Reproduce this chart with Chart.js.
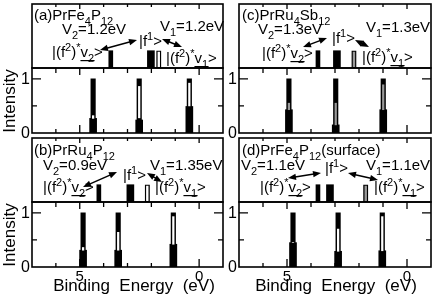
<!DOCTYPE html>
<html>
<head>
<meta charset="utf-8">
<script src="https://cdn.jsdelivr.net/npm/chart.js@4.4.0/dist/chart.umd.min.js"></script>
<style>
html, body { margin: 0; padding: 0; background: #fff; }
#fig { position: relative; width: 437px; height: 303px; overflow: hidden; font-family: "Liberation Sans", Arial, sans-serif; }
#fig canvas { position: absolute; }
.lbl { position: absolute; color: #000; white-space: pre; line-height: 1; font-size: 17px; }
</style>
</head>
<body>
<div id="fig"></div>
<script>
const FONT = '"Liberation Sans", Arial, sans-serif';

// panels in order a, b, c, d
const panelTitle = ['PrFe4P12', 'PrRu4P12', 'PrRu4Sb12', 'PrFe4P12(surface)'];
const v2Text = ['1.2', '0.9', '1.3', '1.1'];
const v1Text = ['1.2', '1.35', '1.3', '1.1'];

// level diagram (upper box), energies in eV
const levelV2 = [3.70, 4.20, 3.71, 3.71];
const levelF1 = [2.02, 2.88, 2.92, 3.21];
const levelV1 = [1.69, 2.17, 2.21, 1.72];
const levelHeight = [0.27, 0.27, 0.27, 0.27];
const levelV1Fill = ['#fff', '#fff', '#999', '#999'];

// spectra (lower box): three peaks per panel
const peakE = [[4.44, 2.51, 0.41], [4.86, 3.39, 1.08], [4.92, 2.97, 0.99], [4.75, 2.87, 1.03]];
const peakTop = [[1, 1, 1], [1, 1, 1], [1, 1, 1], [1, 1, 1]];
const peakBase = [[0.27, 0.24, 0.49], [0.31, 0.31, 0.42], [0.43, 0.15, 0.43], [0.45, 0.29, 0.30]];
const innerLow = [[0.27, 0.28, 0.50], [0.31, 0.31, 0.42], [0.43, 0.15, 0.43], [0.45, 0.29, 0.30]];
const innerHigh = [[0.32, 0.86, 0.92], [0.36, 0.64, 0.93], [0.55, 0.55, 0.89], [0.45, 0.70, 0.93]];
const innerFill = ['#fff', '#fff', '#999', '#fff'];

const xTickLabels = [5, 0];
const yTickLabels = [0, 1];

// where each panel sits
const boxes = [
    { x: 32, y: 4, w: 191, row: 0 },
    { x: 32, y: 138, w: 191, row: 1 },
    { x: 239, y: 4, w: 192, row: 0 },
    { x: 239, y: 138, w: 192, row: 1 }
];
const upperH = 64, lowerH = 65;

// annotation placement, px from the upper box corner
const notePos = [
    { title: [2, 16], v2: [30, 30], v1: [128, 27], f1: [107, 42], s2: [20, 53], s1: [134, 59], a1: [68, 46, 105, 36], a2: [130, 35, 150, 43] },
    { title: [2, 17], v2: [11, 32], v1: [118, 32], f1: [91, 42], s2: [11, 54], s1: [123, 54], a1: [51, 49, 85, 34], a2: [115, 35, 130, 44] },
    { title: [3, 16], v2: [19, 30], v1: [127, 28], f1: [93, 39], s2: [23, 54], s1: [123, 58], a1: [64, 43, 88, 34], a2: [116, 36, 130, 43] },
    { title: [3, 17], v2: [2, 32], v1: [127, 32], f1: [86, 35], s2: [21, 54], s1: [135, 54], a1: [49, 40, 82, 35], a2: [109, 35, 139, 42] }
];

const fig = document.getElementById('fig');

const addCanvas = (left, top, width, height) => {
    const c = document.createElement('canvas');
    c.width = width;
    c.height = height;
    c.style.left = left + 'px';
    c.style.top = top + 'px';
    c.style.width = width + 'px';
    c.style.height = height + 'px';
    fig.appendChild(c);
    return c;
};

const addLabel = (text, css) => {
    const d = document.createElement('div');
    d.className = 'lbl';
    d.textContent = text;
    Object.assign(d.style, css);
    fig.appendChild(d);
};

// split "PrFe4P12" into normal text and subscripts
const formulaParts = (s) => {
    const out = [];
    s.replace(/(\d+)|([^\d]+)/g, (m, num) => { out.push([m, num ? 'sub' : 'n']); });
    return out;
};

const drawRich = (ctx, x, y, parts, size) => {
    let cx = x;
    for (const [t, s] of parts) {
        const small = s !== 'n' && s !== 'u';
        const fs = small ? Math.round(size * 0.72) : size;
        ctx.font = fs + 'px ' + FONT;
        let dy = 0;
        if (s === 'sub' || s === 'usub') dy = size * 0.3;
        if (s === 'sup') dy = -size * 0.4;
        ctx.fillText(t, cx, y + dy);
        const w = ctx.measureText(t).width;
        if (s === 'u' || s === 'usub') ctx.fillRect(cx, y + 3, w + 0.5, 1.2);
        cx += w;
    }
};

const drawArrow = (ctx, x1, y1, x2, y2) => {
    const a = Math.atan2(y2 - y1, x2 - x1);
    const hl = 8, hw = 3.2;
    ctx.beginPath();
    ctx.moveTo(x1 + 4 * Math.cos(a), y1 + 4 * Math.sin(a));
    ctx.lineTo(x2 - 4 * Math.cos(a), y2 - 4 * Math.sin(a));
    ctx.stroke();
    const head = (hx, hy, ang) => {
        ctx.beginPath();
        ctx.moveTo(hx, hy);
        ctx.lineTo(hx - hl * Math.cos(ang) + hw * Math.sin(ang), hy - hl * Math.sin(ang) - hw * Math.cos(ang));
        ctx.lineTo(hx - hl * Math.cos(ang) - hw * Math.sin(ang), hy - hl * Math.sin(ang) + hw * Math.cos(ang));
        ctx.closePath();
        ctx.fill();
    };
    head(x2, y2, a);
    head(x1, y1, a + Math.PI);
};

// frame box with inward ticks and tick labels
const framePlugin = {
    id: 'frame',
    afterDatasetsDraw(chart, args, opts) {
        const { ctx, chartArea: a, scales: { x, y } } = chart;
        ctx.save();
        ctx.strokeStyle = '#000';
        ctx.fillStyle = '#000';
        ctx.lineWidth = 1.6;
        ctx.strokeRect(a.left, a.top, a.right - a.left, a.bottom - a.top);
        ctx.lineWidth = 1.3;
        ctx.beginPath();
        for (let e = -1; e <= 7; e++) {
            const px = x.getPixelForValue(e);
            if (px <= a.left + 1 || px >= a.right - 1) continue;
            const major = e % 5 === 0;
            if (opts.bottom) { ctx.moveTo(px, a.bottom); ctx.lineTo(px, a.bottom - (major ? 8 : 4)); }
            if (opts.top) { ctx.moveTo(px, a.top); ctx.lineTo(px, a.top + (major ? opts.top : opts.top - 2)); }
        }
        if (opts.yTicks) {
            for (const v of [0.5, 1]) {
                const py = y.getPixelForValue(v);
                const len = v === 1 ? 9 : 5;
                ctx.moveTo(a.left, py); ctx.lineTo(a.left + len, py);
                ctx.moveTo(a.right, py); ctx.lineTo(a.right - len, py);
            }
        }
        ctx.stroke();
        if (opts.yTicks) {
            ctx.font = '16px ' + FONT;
            ctx.textAlign = 'right';
            ctx.textBaseline = 'middle';
            yTickLabels.forEach(v => ctx.fillText(String(v), a.left - 2, y.getPixelForValue(v) + 1));
        }
        if (opts.xLabels) {
            ctx.font = '15px ' + FONT;
            ctx.textAlign = 'center';
            ctx.textBaseline = 'top';
            xTickLabels.forEach(v => ctx.fillText(String(v), x.getPixelForValue(v), a.bottom + 2));
        }
        ctx.restore();
    }
};

// text and arrows of the level diagram
const notesPlugin = {
    id: 'notes',
    afterDraw(chart, args, opts) {
        if (!opts.pos) return;
        const { ctx, chartArea: a } = chart;
        const p = opts.pos, i = opts.i;
        const X = (v) => a.left + v, Y = (v) => a.top + v;
        ctx.save();
        ctx.fillStyle = '#000';
        ctx.strokeStyle = '#000';
        ctx.textBaseline = 'alphabetic';
        const letter = '(' + 'abcd'[i] + ')';
        drawRich(ctx, X(p.title[0]), Y(p.title[1]), [[letter, 'n'], ...formulaParts(panelTitle[i])], 15);
        drawRich(ctx, X(p.v2[0]), Y(p.v2[1]), [['V', 'n'], ['2', 'sub'], ['=' + v2Text[i] + 'eV', 'n']], 15);
        drawRich(ctx, X(p.v1[0]), Y(p.v1[1]), [['V', 'n'], ['1', 'sub'], ['=' + v1Text[i] + 'eV', 'n']], 15);
        drawRich(ctx, X(p.f1[0]), Y(p.f1[1]), [['|f', 'n'], ['1', 'sup'], ['>', 'n']], 15);
        drawRich(ctx, X(p.s2[0]), Y(p.s2[1]), [['|(f', 'n'], ['2', 'sup'], [')', 'n'], ['*', 'sup'], ['v', 'u'], ['2', 'usub'], ['>', 'n']], 15);
        drawRich(ctx, X(p.s1[0]), Y(p.s1[1]), [['|(f', 'n'], ['2', 'sup'], [')', 'n'], ['*', 'sup'], ['v', 'u'], ['1', 'usub'], ['>', 'n']], 15);
        ctx.lineWidth = 1.5;
        drawArrow(ctx, X(p.a1[0]), Y(p.a1[1]), X(p.a1[2]), Y(p.a1[3]));
        drawArrow(ctx, X(p.a2[0]), Y(p.a2[1]), X(p.a2[2]), Y(p.a2[3]));
        ctx.restore();
    }
};

Chart.register(framePlugin, notesPlugin);

const xScale = { type: 'linear', min: -1, max: 7, reverse: true, offset: false, display: false };

const barSet = (points, color, thickness, order, extra) => Object.assign({
    data: points, backgroundColor: color, barThickness: thickness,
    grouped: false, order: order, borderWidth: 0
}, extra || {});

boxes.forEach((b, i) => {
    // upper: level diagram
    const pad = 2;
    const cu = addCanvas(b.x - pad, b.y - pad, b.w + 2 * pad, upperH + 2 * pad);
    new Chart(cu, {
        type: 'bar',
        data: {
            datasets: [
                barSet([{ x: levelV1[i], y: levelHeight[i] }], levelV1Fill[i], 4.5, 0,
                    { borderColor: '#000', borderWidth: 1.4, borderSkipped: false }),
                barSet([{ x: levelF1[i], y: levelHeight[i] }], '#000', 7, 1),
                barSet([{ x: levelV2[i], y: levelHeight[i] }], '#000', 4, 2)
            ]
        },
        options: {
            responsive: false, animation: false, devicePixelRatio: 1,
            layout: { padding: pad },
            scales: { x: xScale, y: { min: 0, max: 1, display: false } },
            plugins: {
                legend: { display: false }, tooltip: { enabled: false },
                frame: { top: 5 },
                notes: { pos: notePos[i], i: i }
            }
        }
    });

    // lower: intensity spectrum
    const bottomRow = b.row === 1;
    const padL = 22, padT = 2, padR = 2, padB = bottomRow ? 22 : 10;
    const yTop = b.y + upperH;
    const cl = addCanvas(b.x - padL, yTop - padT, b.w + padL + padR, lowerH + padT + padB);
    new Chart(cl, {
        type: 'bar',
        data: {
            datasets: [
                barSet(peakE[i].map((e, k) => ({ x: e, y: [innerLow[i][k], innerHigh[i][k]] })), innerFill[i], 1.6, 0),
                barSet(peakE[i].map((e, k) => ({ x: e, y: peakBase[i][k] })), '#000', 7, 1),
                barSet(peakE[i].map((e, k) => ({ x: e, y: peakTop[i][k] })), '#000', 4.5, 2)
            ]
        },
        options: {
            responsive: false, animation: false, devicePixelRatio: 1,
            layout: { padding: { left: padL, top: padT, right: padR, bottom: padB } },
            scales: { x: xScale, y: { min: 0, max: 1.2, display: false } },
            plugins: {
                legend: { display: false }, tooltip: { enabled: false },
                frame: { top: 7, bottom: true, yTicks: true, xLabels: bottomRow }
            }
        }
    });
});

// axis titles
[101, 235].forEach(cy => {
    addLabel('Intensity', { left: '9px', top: cy + 'px', transform: 'translate(-50%,-50%) rotate(-90deg)' });
});
[134, 336].forEach(cx => {
    addLabel('Binding  Energy  (eV)', { left: cx + 'px', top: '277px', transform: 'translateX(-50%)' });
});
</script>
</body>
</html>
